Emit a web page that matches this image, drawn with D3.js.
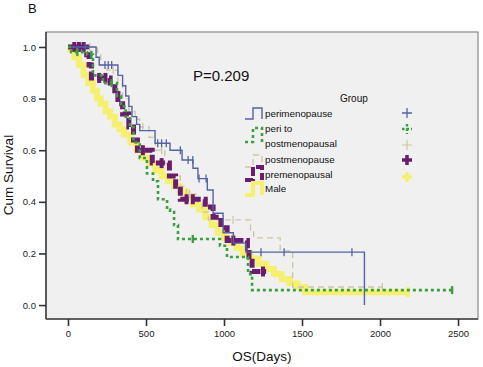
<!DOCTYPE html>
<html>
<head>
<meta charset="utf-8">
<script src="https://cdn.jsdelivr.net/npm/d3@7"></script>
<style>
  html, body { margin: 0; padding: 0; background: #fff; }
  svg { display: block; font-family: "Liberation Sans", Arial, sans-serif; }
</style>
</head>
<body>
<svg id="chart" width="483" height="367"></svg>
<script>
// ---------- data ----------
const xTicks = [0, 500, 1000, 1500, 2000, 2500];
const yTicks = [0.0, 0.2, 0.4, 0.6, 0.8, 1.0];
const groupNames = ["perimenopause", "peri to postmenopausal", "postmenopause", "premenopausal", "Male"];

const periT = [0, 180, 200, 320, 350, 370, 390, 410, 440, 460, 558, 654, 731, 801, 833, 893, 930, 994, 1060, 1140, 1900, 1900];
const periS = [1.0, 0.96, 0.93, 0.89, 0.85, 0.81, 0.77, 0.73, 0.70, 0.676, 0.627, 0.60, 0.562, 0.53, 0.49, 0.446, 0.356, 0.28, 0.24, 0.205, 0.205, 0.0];
const periCens = [110, 237, 258, 280, 575, 600, 630, 720, 770, 800, 840, 885, 1237, 1385, 1820];

const periPostT = [0, 20, 122, 160, 224, 314, 340, 370, 397, 420, 460, 506, 545, 577, 635, 654, 680, 705, 974, 1019, 1154, 1180, 2462];
const periPostS = [1.0, 0.98, 0.97, 0.89, 0.86, 0.81, 0.77, 0.73, 0.69, 0.63, 0.57, 0.51, 0.48, 0.41, 0.37, 0.36, 0.31, 0.256, 0.23, 0.186, 0.12, 0.058, 0.058];
const periPostCens = [60, 150, 280, 800, 2462];

const postT = [0, 190, 210, 250, 320, 350, 390, 430, 460, 520, 560, 620, 660, 720, 760, 830, 860, 900, 1170, 1190, 1360, 1440, 2015];
const postS = [1.0, 0.97, 0.93, 0.91, 0.86, 0.80, 0.75, 0.72, 0.69, 0.65, 0.60, 0.55, 0.50, 0.46, 0.43, 0.40, 0.36, 0.33, 0.29, 0.26, 0.21, 0.07, 0.07];
const postCens = [140, 290, 480, 600, 780, 1058, 2015];

const preT = [0, 120, 135, 150, 270, 300, 320, 350, 390, 420, 445, 540, 650, 690, 720, 880, 930, 980, 1020, 1150, 1160, 1180, 1270];
const preS = [1.0, 0.97, 0.93, 0.88, 0.86, 0.82, 0.78, 0.74, 0.69, 0.64, 0.60, 0.55, 0.50, 0.46, 0.41, 0.38, 0.34, 0.30, 0.25, 0.22, 0.17, 0.13, 0.13];
const preCens = [40, 70, 100, 200, 240, 480, 600, 760, 800, 1060, 1250];

const maleT = [0, 15, 40, 70, 100, 130, 160, 185, 210, 240, 270, 300, 330, 360, 400, 440, 480, 520, 560, 600, 640, 680, 720, 760, 800, 840, 880, 920, 960, 1000, 1040, 1080, 1120, 1170, 1220, 1270, 1320, 1370, 1420, 1470, 1520, 2180];
const maleS = [1.0, 0.99, 0.96, 0.93, 0.89, 0.86, 0.83, 0.80, 0.78, 0.75, 0.73, 0.70, 0.68, 0.66, 0.63, 0.60, 0.57, 0.55, 0.52, 0.50, 0.48, 0.46, 0.44, 0.42, 0.39, 0.37, 0.34, 0.31, 0.28, 0.26, 0.24, 0.22, 0.20, 0.18, 0.16, 0.14, 0.12, 0.10, 0.085, 0.07, 0.05, 0.05];
const maleCens = [2180];

// ---------- layout ----------
const svg = d3.select("#chart");
const L = 46, R = 478, T = 32, B = 319;
const x = d3.scaleLinear().domain([-141, 2628]).range([L, R]);
const y = d3.scaleLinear().domain([-0.054, 1.058]).range([B, T]);

svg.append("text").attr("x", 28).attr("y", 13).attr("font-size", 13).attr("fill", "#111").text("B");

svg.append("rect").attr("x", L).attr("y", T).attr("width", R - L).attr("height", B - T)
  .attr("fill", "#f0f0f0").attr("stroke", "#8a8a8a").attr("stroke-width", 1.2);

const series = [
  { name: "Male", t: maleT, s: maleS, c: maleCens, color: "#f6f070", w: 6, dash: null, cw: 4 },
  { name: "postmenopause", t: postT, s: postS, c: postCens, color: "#cdc3a4", w: 1.3, dash: "6,4", cw: 1.2 },
  { name: "premenopausal", t: preT, s: preS, c: preCens, color: "#6a1d6c", w: 5, dash: "9,3", cw: 4 },
  { name: "perimenopause", t: periT, s: periS, c: periCens, color: "#5363a6", w: 1.4, dash: null, cw: 1.3 },
  { name: "peri to postmenopausal", t: periPostT, s: periPostS, c: periPostCens, color: "#3b9f3f", w: 2.6, dash: "3,3", cw: 2.4 }
];

const line = d3.line().x(d => x(d[0])).y(d => y(d[1])).curve(d3.curveStepAfter);

function survAt(ser, t) {
  let v = ser.s[0];
  for (let i = 0; i < ser.t.length; i++) { if (ser.t[i] <= t) v = ser.s[i]; }
  return v;
}

series.forEach(ser => {
  const pts = ser.t.map((t, i) => [t, ser.s[i]]);
  svg.append("path").attr("d", line(pts)).attr("fill", "none")
    .attr("stroke", ser.color).attr("stroke-width", ser.w)
    .attr("stroke-dasharray", ser.dash).attr("stroke-linejoin", "miter");
  ser.c.forEach(ct => {
    const cy = y(survAt(ser, ct));
    const sz = ser.w > 3 ? 5 : 4;
    svg.append("line").attr("x1", x(ct)).attr("x2", x(ct))
      .attr("y1", cy - sz).attr("y2", cy + sz)
      .attr("stroke", ser.color).attr("stroke-width", ser.cw);
  });
});

// ---------- axes ----------
const yAxis = d3.axisLeft(y).tickValues(yTicks).tickFormat(d3.format(".1f")).tickSize(7).tickSizeOuter(0);
const gy = svg.append("g").attr("transform", `translate(${L},0)`).call(yAxis);
gy.select(".domain").attr("d", `M0,${T}V${B}`);
const xAxis = d3.axisBottom(x).tickValues(xTicks).tickFormat(d3.format("d")).tickSize(7).tickSizeOuter(0);
const gx = svg.append("g").attr("transform", `translate(0,${B})`).call(xAxis);
gx.select(".domain").attr("d", `M${L},0H${R}`);
[gx, gy].forEach(g => {
  g.selectAll(".domain").attr("stroke", "#444").attr("stroke-width", 1.6);
  g.selectAll(".tick line").attr("stroke", "#333").attr("stroke-width", 1.6);
  g.selectAll(".tick text").attr("font-size", 9.5).attr("fill", "#222")
    .attr("font-family", "'Liberation Sans', Arial, sans-serif");
});
gy.selectAll(".tick text").attr("x", -10);
gx.selectAll(".tick text").attr("y", 11);

svg.append("text").attr("transform", "translate(13,175) rotate(-90)").attr("text-anchor", "middle")
  .attr("font-size", 13.5).attr("fill", "#111").text("Cum Survival");
svg.append("text").attr("x", 262).attr("y", 361).attr("text-anchor", "middle")
  .attr("font-size", 13.5).attr("fill", "#111").text("OS(Days)");

svg.append("text").attr("x", 193).attr("y", 81).attr("font-size", 15).attr("fill", "#111").text("P=0.209");

// ---------- legend ----------
svg.append("text").attr("x", 340).attr("y", 102).attr("font-size", 10).attr("fill", "#111").text("Group");

const legTextX = 265;
const legLabels = [
  { lines: ["perimenopause"], ys: [117] },
  { lines: ["peri to", "postmenopausal"], ys: [132, 147] },
  { lines: ["postmenopause"], ys: [163] },
  { lines: ["premenopausal"], ys: [178] },
  { lines: ["Male"], ys: [192] }
];
const legSampleY = [[108, 119], [128, 142], [155, 167], [167, 180], [183, 195]];
const legPlusY = [113, 129, 145, 160, 177];
const order = ["perimenopause", "peri to postmenopausal", "postmenopause", "premenopausal", "Male"];

order.forEach((nm, i) => {
  const ser = series.find(s => s.name === nm);
  legLabels[i].lines.forEach((tx, j) => {
    svg.append("text").attr("x", legTextX).attr("y", legLabels[i].ys[j]).attr("font-size", 9.8)
      .attr("fill", "#111").text(tx);
  });
  const [yt, yb] = legSampleY[i];
  const w = Math.min(ser.w, 4);
  svg.append("path").attr("d", `M245,${yb}H253V${yt}H262V${yb}`).attr("fill", "none")
    .attr("stroke", ser.color).attr("stroke-width", w).attr("stroke-dasharray", ser.dash);
  const px = 407, py = legPlusY[i], r = 5;
  const pw = ser.w > 3 ? 3.5 : Math.max(1.2, ser.cw);
  svg.append("path").attr("d", `M${px - r},${py}H${px + r}M${px},${py - r}V${py + r}`)
    .attr("stroke", ser.color).attr("stroke-width", pw).attr("fill", "none")
    .attr("stroke-dasharray", nm === "peri to postmenopausal" ? "2.5,2" : null);
});
</script>
</body>
</html>
